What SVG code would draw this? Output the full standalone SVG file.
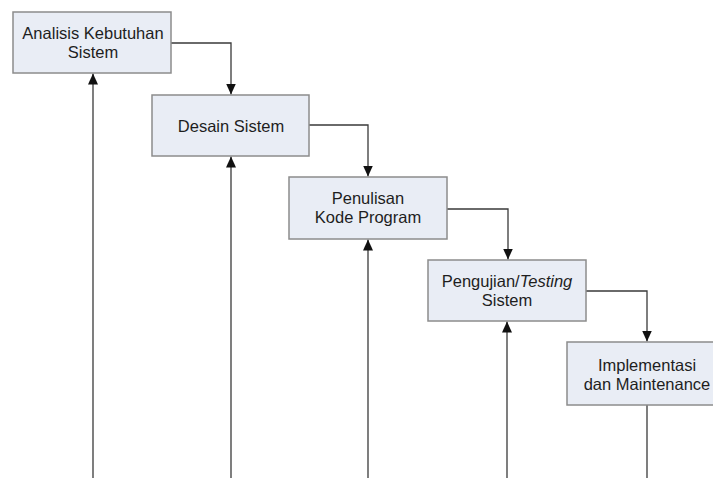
<svg xmlns="http://www.w3.org/2000/svg" width="713" height="478" viewBox="0 0 713 478">
<style>
.box{fill:#e9edf5;stroke:#8c8c8c;stroke-width:1.5}
.t{font-family:"Liberation Sans",Arial,sans-serif;font-size:16.5px;fill:#1e1e1e;text-anchor:middle}
.c{fill:none;stroke:#3a3a3a;stroke-width:1.3}
</style>
<defs>
<marker id="ah" markerUnits="userSpaceOnUse" markerWidth="12" markerHeight="12" viewBox="0 0 12 12" refX="11" refY="6" orient="auto">
<path d="M0,1 L11,6 L0,11 Z" fill="#111"/>
</marker>
</defs>
<rect width="713" height="478" fill="#fff"/>
<g id="connectors">
<path class="c" d="M171,43 H231 V94.5" marker-end="url(#ah)"/>
<path class="c" d="M309,125 H368 V176.5" marker-end="url(#ah)"/>
<path class="c" d="M447,209 H508 V259.5" marker-end="url(#ah)"/>
<path class="c" d="M586,291 H647 V341.5" marker-end="url(#ah)"/>
<path class="c" d="M93,478 V73.5" marker-end="url(#ah)"/>
<path class="c" d="M231,478 V156.5" marker-end="url(#ah)"/>
<path class="c" d="M368,478 V239.5" marker-end="url(#ah)"/>
<path class="c" d="M507,478 V321.5" marker-end="url(#ah)"/>
<path class="c" d="M647,405 V478"/>
</g>
<g id="n1">
<rect class="box" x="13" y="12" width="158" height="61"/>
<text class="t" x="93" y="39">Analisis Kebutuhan</text>
<text class="t" x="93" y="58">Sistem</text>
</g>
<g id="n2">
<rect class="box" x="152" y="95" width="157" height="61"/>
<text class="t" x="231" y="132">Desain Sistem</text>
</g>
<g id="n3">
<rect class="box" x="289" y="177" width="158" height="62"/>
<text class="t" x="368" y="204">Penulisan</text>
<text class="t" x="368" y="223">Kode Program</text>
</g>
<g id="n4">
<rect class="box" x="428" y="260" width="158" height="61"/>
<text class="t" x="507" y="287">Pengujian/<tspan font-style="italic">Testing</tspan></text>
<text class="t" x="507" y="306">Sistem</text>
</g>
<g id="n5">
<rect class="box" x="567" y="342" width="160" height="63"/>
<text class="t" x="647" y="371">Implementasi</text>
<text class="t" x="647" y="390">dan Maintenance</text>
</g>
</svg>
